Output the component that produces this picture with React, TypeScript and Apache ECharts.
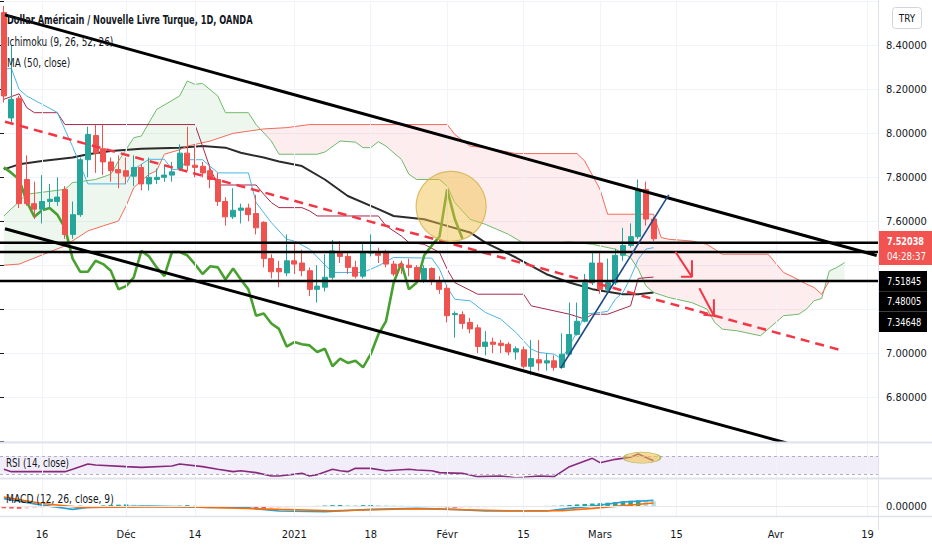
import React, { useEffect, useRef } from "react";
import * as echarts from "echarts";

// ---------- texts ----------
const TITLE = "Dollar Américain / Nouvelle Livre Turque, 1D, OANDA";
const LEGEND_ICHIMOKU = "Ichimoku (9, 26, 52, 26)";
const LEGEND_MA = "MA (50, close)";
const LEGEND_RSI = "RSI (14, close)";
const LEGEND_MACD = "MACD (12, 26, close, 9)";
const CURRENCY = "TRY";
const LAST_PRICE = "7.52038";
const COUNTDOWN = "04:28:37";
const LINE_TAGS = ["7.51845", "7.48005", "7.34648"];

// ---------- calendar ----------
const FIRST_DAY = "2020-11-09";
const LAST_DAY = "2021-04-20";
const HOLIDAYS = ["2020-12-25", "2021-01-01"];
const X_TICKS: [string, string][] = [
  ["2020-11-16", "16"], ["2020-12-01", "Déc"], ["2020-12-14", "14"], ["2021-01-04", "2021"],
  ["2021-01-18", "18"], ["2021-02-01", "Févr"], ["2021-02-15", "15"], ["2021-03-01", "Mars"],
  ["2021-03-15", "15"], ["2021-04-01", "Avr"], ["2021-04-19", "19"],
];

// ---------- price axis ----------
const Y_MIN = 6.6;
const Y_MAX = 8.6;
const Y_STEP = 0.2;
const Y_HIDDEN = [6.6, 7.2, 7.4, 8.6];

// ---------- candles [open, close, low, high] ----------
const CANDLES: number[][] = [
  [8.55, 8.17, 8.14, 8.58], [8.07, 8.155, 8.05, 8.40], [8.16, 7.68, 7.66, 8.17], [7.79, 7.68, 7.67, 7.90],
  [7.68, 7.655, 7.61, 7.78], [7.655, 7.69, 7.59, 7.81], [7.69, 7.70, 7.66, 7.77], [7.69, 7.71, 7.67, 7.80],
  [7.745, 7.54, 7.52, 7.76], [7.54, 7.63, 7.52, 7.69], [7.63, 7.88, 7.62, 7.89], [7.88, 7.995, 7.80, 8.03],
  [7.99, 7.91, 7.82, 8.04], [7.93, 7.87, 7.81, 8.04], [7.87, 7.83, 7.78, 7.89], [7.835, 7.82, 7.75, 7.90],
  [7.83, 7.805, 7.77, 7.89], [7.805, 7.845, 7.76, 7.90], [7.845, 7.77, 7.74, 7.86], [7.77, 7.80, 7.74, 7.89],
  [7.79, 7.80, 7.77, 7.84], [7.80, 7.81, 7.78, 7.85], [7.81, 7.825, 7.78, 7.87], [7.84, 7.91, 7.83, 7.95],
  [7.91, 7.855, 7.83, 8.03], [7.855, 7.845, 7.80, 7.95], [7.85, 7.82, 7.80, 7.87], [7.83, 7.79, 7.75, 7.86],
  [7.79, 7.69, 7.67, 7.82], [7.69, 7.62, 7.58, 7.71], [7.62, 7.65, 7.61, 7.75], [7.65, 7.66, 7.59, 7.68],
  [7.66, 7.63, 7.60, 7.68], [7.635, 7.57, 7.54, 7.72], [7.595, 7.43, 7.39, 7.60], [7.43, 7.37, 7.34, 7.45],
  [7.385, 7.37, 7.30, 7.42], [7.365, 7.42, 7.35, 7.54], [7.42, 7.405, 7.36, 7.50], [7.41, 7.375, 7.35, 7.47],
  [7.375, 7.29, 7.26, 7.39], [7.29, 7.305, 7.23, 7.40], [7.30, 7.345, 7.28, 7.45], [7.345, 7.465, 7.335, 7.515],
  [7.46, 7.44, 7.41, 7.51], [7.44, 7.39, 7.36, 7.46], [7.39, 7.35, 7.34, 7.42], [7.35, 7.46, 7.34, 7.50],
  [7.455, 7.46, 7.44, 7.54], [7.46, 7.445, 7.41, 7.48], [7.455, 7.405, 7.39, 7.47], [7.405, 7.36, 7.35, 7.42],
  [7.405, 7.395, 7.36, 7.42], [7.40, 7.39, 7.35, 7.43], [7.39, 7.335, 7.32, 7.40], [7.335, 7.385, 7.32, 7.40],
  [7.385, 7.335, 7.31, 7.39], [7.33, 7.29, 7.27, 7.35], [7.295, 7.17, 7.14, 7.31], [7.175, 7.18, 7.07, 7.19],
  [7.175, 7.135, 7.11, 7.19], [7.14, 7.11, 7.09, 7.16], [7.115, 7.03, 7.00, 7.13], [7.03, 7.05, 6.99, 7.10],
  [7.05, 7.04, 7.00, 7.07], [7.045, 7.035, 7.00, 7.06], [7.04, 7.005, 6.99, 7.05], [7.005, 7.02, 6.97, 7.03],
  [7.015, 6.94, 6.93, 7.03], [6.94, 6.975, 6.90, 7.06], [6.97, 6.955, 6.92, 7.06], [6.955, 6.965, 6.92, 7.00],
  [6.965, 6.935, 6.92, 6.99], [6.935, 6.995, 6.93, 7.09], [6.995, 7.085, 6.99, 7.23], [7.085, 7.145, 7.08, 7.23],
  [7.145, 7.32, 7.14, 7.36], [7.32, 7.41, 7.31, 7.455], [7.41, 7.29, 7.27, 7.46], [7.29, 7.32, 7.27, 7.43],
  [7.32, 7.445, 7.31, 7.475], [7.445, 7.49, 7.42, 7.57], [7.49, 7.53, 7.48, 7.59], [7.53, 7.745, 7.52, 7.79],
  [7.745, 7.61, 7.58, 7.78], [7.61, 7.52038, 7.51, 7.62],
];

// ---------- indicator lines: [bar index, value] ----------
const CHIKOU_SHIFT = 25;
const TENKAN: number[][] = [
  [0, 8.294], [1, 8.294], [2, 8.2], [3, 8.17], [7, 8.095], [9, 7.94], [11, 7.77], [16, 7.77], [17, 7.836],
  [19, 7.882], [21, 7.882], [22, 7.836], [23, 7.836], [24, 7.88], [26, 7.88], [28, 7.82], [32, 7.82],
  [33, 7.685], [35, 7.594], [37, 7.518], [38, 7.51], [40, 7.473], [43, 7.367], [47, 7.367], [49, 7.397],
  [51, 7.435], [56, 7.432], [57, 7.382], [58, 7.30], [59, 7.245], [61, 7.238], [63, 7.185], [65, 7.155],
  [67, 7.094], [69, 7.018], [70, 7.003], [72, 6.995], [73, 6.973], [75, 7.095], [76, 7.177], [78, 7.185],
  [79, 7.19], [80, 7.245], [81, 7.276], [82, 7.344], [83, 7.427], [84, 7.473], [85, 7.48],
];
const KIJUN: number[][] = [
  [0, 8.155], [2, 8.18], [3, 8.117], [4, 8.094], [7, 8.094], [8, 8.04], [25, 8.04], [26, 7.942],
  [27, 7.84], [28, 7.765], [33, 7.765], [34, 7.723], [35, 7.685], [36, 7.662], [39, 7.662], [40, 7.647],
  [41, 7.624], [49, 7.624], [50, 7.579], [52, 7.533], [53, 7.503], [55, 7.495], [57, 7.458], [58, 7.382],
  [59, 7.321], [62, 7.268], [68, 7.268], [69, 7.215], [74, 7.177], [76, 7.155], [77, 7.177], [79, 7.177],
  [82, 7.215], [83, 7.34], [85, 7.346],
];
const SENKOU_A: number[][] = [
  [0, 7.624], [3, 7.723], [8, 7.745], [9, 7.776], [12, 7.79], [14, 7.814], [15, 7.874], [17, 7.98],
  [18, 7.988], [19, 8.049], [20, 8.109], [23, 8.17], [24, 8.238], [25, 8.223], [26, 8.227], [28, 8.17],
  [29, 8.094], [32, 8.094], [33, 8.04], [35, 7.965], [36, 7.905], [41, 7.905], [42, 7.915], [44, 7.965],
  [46, 7.96], [47, 7.935], [48, 7.935], [49, 7.962], [50, 7.942], [52, 7.882], [53, 7.814], [54, 7.79],
  [57, 7.79], [58, 7.76], [59, 7.685], [61, 7.609], [63, 7.586], [64, 7.571], [66, 7.541], [68, 7.5],
  [73, 7.503], [74, 7.506], [77, 7.495], [80, 7.473], [82, 7.435], [83, 7.382], [84, 7.306], [85, 7.276],
  [87, 7.253], [90, 7.23], [92, 7.2], [93, 7.14], [94, 7.109], [96, 7.101], [99, 7.079], [102, 7.17],
  [104, 7.177], [105, 7.2], [106, 7.238], [107, 7.249], [108, 7.374], [109, 7.39], [110, 7.412],
];
const SENKOU_B: number[][] = [
  [0, 7.40], [2, 7.405], [8, 7.488], [11, 7.556], [13, 7.579], [15, 7.601], [16, 7.67], [17, 7.753],
  [19, 7.814], [20, 7.83], [21, 7.905], [23, 7.925], [24, 7.942], [27, 7.965], [30, 8.0], [34, 8.02],
  [37, 8.026], [40, 8.04], [58, 8.04], [59, 7.995], [61, 7.942], [63, 7.935], [67, 7.908], [75, 7.908],
  [76, 7.874], [78, 7.745], [79, 7.632], [85, 7.632], [86, 7.526], [87, 7.518], [90, 7.51], [92, 7.495],
  [94, 7.45], [100, 7.45], [102, 7.367], [103, 7.351], [105, 7.314], [106, 7.299], [107, 7.268],
  [108, 7.329], [110, 7.329],
];
const MA50: number[][] = [
  [0, 7.836], [2, 7.859], [5, 7.874], [9, 7.89], [11, 7.905], [14, 7.92], [18, 7.93], [23, 7.935],
  [26, 7.942], [29, 7.935], [31, 7.912], [34, 7.89], [36, 7.872], [39, 7.851], [42, 7.79], [45, 7.715],
  [49, 7.655], [51, 7.624], [55, 7.609], [58, 7.579], [61, 7.549], [63, 7.503], [67, 7.435], [71, 7.359],
  [74, 7.321], [77, 7.291], [79, 7.279], [81, 7.268], [83, 7.268], [85, 7.276],
];

// ---------- lower panes ----------
const RSI: number[][] = [
  [0, 40.9], [1, 35.8], [8, 35.8], [9, 40.9], [11, 52.5], [12, 50.3], [16, 46.7], [18, 45.2], [22, 48.1],
  [23, 52.5], [26, 46.7], [28, 40.9], [30, 35.8], [31, 37.9], [33, 33.6], [35, 26.3], [36, 26.3], [39, 32.1],
  [40, 26.3], [41, 29.2], [43, 40.9], [44, 37.9], [45, 35.8], [46, 43.0], [48, 43.0], [50, 37.9], [53, 40.9],
  [54, 39.4], [56, 37.9], [57, 33.6], [60, 32.1], [62, 24.8], [65, 26.3], [67, 22.6], [68, 23.4], [70, 26.3],
  [72, 24.8], [74, 46.7], [77, 64.9], [78, 55.4], [80, 62.7], [82, 67.1], [83, 74.4], [85, 59.8],
];
const RSI_BAND = [30, 70];
const MACD_LINE: number[][] = [
  [0, 0.061], [5, 0.008], [9, -0.026], [11, -0.010], [19, 0.0], [27, -0.010], [31, -0.010], [36, -0.039],
  [42, -0.045], [48, -0.026], [54, -0.018], [59, -0.026], [63, -0.039], [71, -0.039], [74, -0.018],
  [77, 0.0], [81, 0.034], [85, 0.047],
];
const SIGNAL_LINE: number[][] = [
  [0, 0.074], [5, 0.021], [10, -0.010], [23, -0.005], [36, -0.026], [43, -0.037], [54, -0.021],
  [66, -0.037], [73, -0.037], [77, -0.018], [85, 0.026],
];
const MACD_HIST: number[] = [
  -0.018, -0.02, -0.022, -0.02, -0.016, -0.012, -0.009, -0.006, -0.004, 0.002, 0.004, 0.003, 0.002,
  0.006, 0.010, 0.012, 0.014, 0.012, 0.010, -0.003, -0.005, -0.004, -0.002, 0.004, 0.008, 0.006, 0.003,
  -0.002, -0.004, -0.008, -0.012, -0.015, -0.017, -0.018, -0.02, -0.019, -0.014, -0.011, -0.008, -0.006,
  -0.004, 0.002, 0.005, 0.008, 0.009, 0.008, 0.007, 0.008, 0.009, 0.008, 0.006, 0.005, 0.004, 0.003,
  0.002, 0.001, -0.004, -0.008, -0.011, -0.013, -0.012, -0.011, -0.010, -0.009, -0.008, -0.007, -0.006,
  -0.004, -0.002, -0.001, 0.001, 0.002, 0.003, 0.005, 0.009, 0.014, 0.018, 0.021, 0.024, 0.028, 0.033,
  0.038, 0.044, 0.047, 0.044, 0.040,
];

// ---------- drawings: [bar index, price] ----------
const UPPER_CHANNEL = [[0.15, 8.539], [114.2, 7.444]];
const LOWER_CHANNEL = [[0.15, 7.566], [102.4, 6.591]];
const DASHED_TREND = [[0.15, 8.053], [109.95, 7.009]];
const H_LINES = [7.502, 7.460, 7.328];
const BLUE_TREND = [[72.85, 6.931], [86.99, 7.72]];
const ARROWS = [
  [[87.86, 7.461], [90.03, 7.347]], [[90.03, 7.423], [90.03, 7.347], [88.6, 7.347]],
  [[91.0, 7.295], [92.9, 7.17]], [[92.9, 7.245], [92.9, 7.17], [91.53, 7.175]],
];
const CIRCLE = [58.52, 7.668];
const RSI_MARK = [83.5, 66.3];

// ---------- layout ----------
const FONT = "'Liberation Sans Narrow', 'DejaVu Sans Condensed', 'Roboto', sans-serif";
const PLOT_LEFT = -5;
const PLOT_W = 884;
const AXIS_X = PLOT_LEFT + PLOT_W; // 879
const UP = "#26a69a";
const DOWN = "#ef5350";

function tradingDays(): string[] {
  const out: string[] = [];
  const d = new Date(FIRST_DAY + "T00:00:00Z");
  const end = new Date(LAST_DAY + "T00:00:00Z");
  while (d.getTime() <= end.getTime()) {
    const wd = d.getUTCDay();
    const s = d.toISOString().slice(0, 10);
    if (wd !== 0 && wd !== 6 && HOLIDAYS.indexOf(s) < 0) out.push(s);
    d.setUTCDate(d.getUTCDate() + 1);
  }
  return out;
}

const toU = (pts: number[][]) => pts.map((p) => [p[0] + 0.5, p[1]]);

function interp(arr: number[][], x: number): number {
  if (x <= arr[0][0]) return arr[0][1];
  for (let i = 1; i < arr.length; i++) {
    if (x <= arr[i][0]) {
      const [x0, y0] = arr[i - 1];
      const [x1, y1] = arr[i];
      return y0 + ((x - x0) / (x1 - x0)) * (y1 - y0);
    }
  }
  return arr[arr.length - 1][1];
}

function buildOption() {
  const DATES = tradingDays();
  const N = DATES.length;
  const tickMap: Record<string, string> = {};
  X_TICKS.forEach(([d, l]) => (tickMap[d] = l));
  const tickIdx = X_TICKS.map(([d]) => DATES.indexOf(d)).filter((i) => i >= 0);
  const isTick = (i: number) => tickIdx.indexOf(i) >= 0;
  const vGrid = tickIdx.map((i) => ({ xAxis: i + 0.5 }));
  const gridLine = { color: "#f0f3fa", width: 1, type: "solid" as const };

  const closes = CANDLES.map((c) => c[1]);
  const chikou: number[][] = [];
  for (let j = 0; j + CHIKOU_SHIFT < closes.length; j++) chikou.push([j + 0.5, closes[j + CHIKOU_SHIFT]]);

  const lineS = (name: string, data: number[][], color: string, width: number, z: number, extra: any = {}) => ({
    name, type: "line", xAxisIndex: 1, yAxisIndex: 0, data: toU(data), symbol: "none", silent: true,
    lineStyle: { color, width }, z, ...extra,
  });

  const cloud = {
    type: "custom", xAxisIndex: 1, yAxisIndex: 0, silent: true, z: 1,
    data: [[0, 7.5]], encode: { x: 0, y: 1 },
    renderItem: (params: any, api: any) => {
      const xs = Array.from(new Set([...SENKOU_A.map((p) => p[0]), ...SENKOU_B.map((p) => p[0])])).sort((a, b) => a - b);
      const regions: { pos: boolean; pts: number[][] }[] = [];
      let cur: any = null;
      for (let i = 0; i < xs.length; i++) {
        const x = xs[i];
        const a = interp(SENKOU_A, x);
        const b = interp(SENKOU_B, x);
        const d = a - b;
        if (i > 0 && cur) {
          const px = xs[i - 1];
          const pa = interp(SENKOU_A, px);
          const pb = interp(SENKOU_B, px);
          const pd = pa - pb;
          if (pd * d < 0) {
            const t = pd / (pd - d);
            const xc = px + t * (x - px);
            const yc = pa + t * (a - pa);
            cur.pts.push([xc, yc, yc]);
            cur = { pos: d > 0, pts: [[xc, yc, yc]] };
            regions.push(cur);
          }
        }
        if (!cur) {
          cur = { pos: d >= 0, pts: [] };
          regions.push(cur);
        }
        cur.pts.push([x, a, b]);
      }
      const children = regions.map((r) => {
        const top = r.pts.map((p) => api.coord([p[0] + 0.5, p[1]]));
        const bot = r.pts.slice().reverse().map((p) => api.coord([p[0] + 0.5, p[2]]));
        return {
          type: "polygon", shape: { points: top.concat(bot) },
          style: { fill: r.pos ? "rgba(76,175,80,0.10)" : "rgba(242,54,69,0.09)" },
        };
      });
      return { type: "group", children };
    },
  };

  const annot = (data: number[][], color: string, width: number, z: number, type: any = "solid") =>
    lineS("", data, color, width, z, { lineStyle: { color, width, type } });

  const hist = MACD_HIST.map((v, i) => {
    const prev = i > 0 ? MACD_HIST[i - 1] : v;
    let color;
    if (v >= 0) color = v >= prev ? "#26a69a" : "#b2dfdb";
    else color = v <= prev ? "#ff5252" : "#ffcdd2";
    return { value: v, itemStyle: { color } };
  });

  const text = (t: string, x: number, y: number, size: number, weight: string, fill: string, scaleX = 1, align = "left") => ({
    type: "text", x, y, scaleX, z: 100, silent: true,
    style: { text: t, fontSize: size, fontWeight: weight, fontFamily: FONT, fill, align, verticalAlign: "middle" },
  });

  const graphic: any[] = [
    { type: "line", z: 90, silent: true, shape: { x1: AXIS_X - 0.5, y1: 0, x2: AXIS_X - 0.5, y2: 530 }, style: { stroke: "#e0e3eb", lineWidth: 1 } },
    { type: "line", z: 90, silent: true, shape: { x1: 0, y1: 442.5, x2: 932, y2: 442.5 }, style: { stroke: "#e0e3eb", lineWidth: 2 } },
    { type: "line", z: 90, silent: true, shape: { x1: 0, y1: 478.5, x2: 932, y2: 478.5 }, style: { stroke: "#e0e3eb", lineWidth: 2 } },
    { type: "line", z: 90, silent: true, shape: { x1: 0, y1: 516.5, x2: 932, y2: 516.5 }, style: { stroke: "#e0e3eb", lineWidth: 1.5 } },
    text(TITLE, 7, 20, 13, "bold", "#131722", 0.706),
    text(LEGEND_ICHIMOKU, 7, 41.5, 13, "normal", "#131722", 0.76),
    text(LEGEND_MA, 7, 62, 13, "normal", "#131722", 0.76),
    text(LEGEND_RSI, 6, 463, 12, "normal", "#131722", 0.81),
    text(LEGEND_MACD, 6, 499, 12, "normal", "#131722", 0.85),
    { type: "rect", z: 100, silent: true, shape: { x: 892.5, y: 7.5, width: 29, height: 21, r: 3 }, style: { fill: "#fff", stroke: "#d1d4dc", lineWidth: 1 } },
    text(CURRENCY, 907, 18, 11, "normal", "#131722", 0.9, "center"),
    { type: "rect", z: 100, silent: true, shape: { x: AXIS_X, y: 231, width: 932 - AXIS_X, height: 34 }, style: { fill: "#f05350" } },
    text(LAST_PRICE, 887, 241, 11, "bold", "#ffffff", 0.82),
    text(COUNTDOWN, 887, 256, 11, "normal", "#ffffff", 0.88),
  ];
  LINE_TAGS.forEach((t, i) => {
    graphic.push({ type: "rect", z: 100, silent: true, shape: { x: AXIS_X, y: 271 + i * 20.3, width: 48, height: 20.3 }, style: { fill: "#000" } });
    graphic.push(text(t, 887, 281.2 + i * 20.3, 11, "normal", "#ffffff", 0.84));
  });

  const series: any[] = [
    cloud,
    lineS("MA", MA50, "#2b2b2b", 2, 3, { markLine: { silent: true, symbol: "none", label: { show: false }, lineStyle: gridLine, data: vGrid } }),
    lineS("Lead A", SENKOU_A, "#6fb96b", 1, 3),
    lineS("Lead B", SENKOU_B, "#f26b5b", 1, 3),
    lineS("Kijun", KIJUN, "#a52a4a", 1, 3),
    lineS("Tenkan", TENKAN, "#4ab4e6", 1, 3),
    { type: "line", xAxisIndex: 1, yAxisIndex: 0, data: chikou, symbol: "none", silent: true, lineStyle: { color: "#48a02e", width: 2.6 }, z: 4 },
    {
      type: "candlestick", xAxisIndex: 0, yAxisIndex: 0, data: CANDLES, barWidth: 5.5, silent: true, z: 5,
      itemStyle: { color: UP, color0: DOWN, borderColor: UP, borderColor0: DOWN, borderWidth: 1 },
    },
    annot(UPPER_CHANNEL, "#000000", 3, 6),
    annot(LOWER_CHANNEL, "#000000", 3, 6),
    annot(DASHED_TREND, "#f23645", 2.5, 6, [9, 6]),
    ...H_LINES.map((v) => annot([[-1, v], [N, v]], "#000000", 2.6, 6)),
    annot(BLUE_TREND, "#1c4a86", 1.6, 6),
    ...ARROWS.map((a) => annot(a, "#f23645", 2, 7)),
    {
      type: "scatter", xAxisIndex: 1, yAxisIndex: 0, data: [[CIRCLE[0] + 0.5, CIRCLE[1]]], symbol: "circle", symbolSize: 70, silent: true, z: 8,
      itemStyle: { color: "rgba(240,190,70,0.6)", borderColor: "#d2b24e", borderWidth: 1.2 },
    },
    // RSI
    {
      type: "line", xAxisIndex: 2, yAxisIndex: 1, data: toU(RSI), symbol: "none", silent: true, z: 4,
      lineStyle: { color: "#872a7c", width: 1.6 },
      markArea: { silent: true, itemStyle: { color: "rgba(126,87,194,0.1)" }, data: [[{ yAxis: RSI_BAND[0] }, { yAxis: RSI_BAND[1] }]] },
      markLine: {
        silent: true, symbol: "none", label: { show: false },
        data: [
          ...vGrid.map((d) => ({ ...d, lineStyle: gridLine })),
          { yAxis: RSI_BAND[0], lineStyle: { color: "#b3aec4", width: 1, type: [3, 3] } },
          { yAxis: RSI_BAND[1], lineStyle: { color: "#b3aec4", width: 1, type: [3, 3] } },
        ],
      },
    },
    {
      type: "scatter", xAxisIndex: 2, yAxisIndex: 1, data: [[RSI_MARK[0] + 0.5, RSI_MARK[1]]], symbol: "circle", symbolSize: [37, 11], silent: true, z: 6,
      itemStyle: { color: "rgba(240,190,70,0.7)", borderColor: "#9fb04a", borderWidth: 1 },
    },
    // MACD
    {
      type: "bar", xAxisIndex: 3, yAxisIndex: 2, data: hist, barWidth: 4.5, silent: true, z: 3,
    },
    {
      type: "line", xAxisIndex: 4, yAxisIndex: 2, data: toU(MACD_LINE), symbol: "none", silent: true, z: 4,
      lineStyle: { color: "#2c9fd0", width: 1.6 },
      markLine: {
        silent: true, symbol: "none", label: { show: false },
        data: [...vGrid.map((d) => ({ ...d, lineStyle: gridLine })), { yAxis: 0, lineStyle: { color: "#e6e8ee", width: 1, type: "solid" } }],
      },
    },
    {
      type: "line", xAxisIndex: 4, yAxisIndex: 2, data: toU(SIGNAL_LINE), symbol: "none", silent: true, z: 4,
      lineStyle: { color: "#ff6d00", width: 1.6 },
    },
  ];

  return {
    animation: false,
    backgroundColor: "#ffffff",
    textStyle: { fontFamily: FONT },
    grid: [
      { left: PLOT_LEFT, top: 1.5, width: PLOT_W, height: 439.5 },
      { left: PLOT_LEFT, top: 443, width: PLOT_W, height: 35 },
      { left: PLOT_LEFT, top: 479, width: PLOT_W, height: 37 },
    ],
    xAxis: [
      { type: "category", gridIndex: 0, data: DATES, boundaryGap: true, show: false },
      { type: "value", gridIndex: 0, min: 0, max: N, show: false },
      { type: "value", gridIndex: 1, min: 0, max: N, show: false },
      {
        type: "category", gridIndex: 2, data: DATES, boundaryGap: true,
        axisLine: { show: false },
        axisTick: { show: true, alignWithLabel: true, interval: (i: number) => isTick(i), length: 4, lineStyle: { color: "#787b86" } },
        axisLabel: {
          interval: (i: number) => isTick(i), formatter: (v: string) => tickMap[v] || "",
          margin: 13, fontSize: 11, fontFamily: FONT, color: "#131722",
        },
        splitLine: { show: false },
      },
      { type: "value", gridIndex: 2, min: 0, max: N, show: false },
    ],
    yAxis: [
      {
        type: "value", gridIndex: 0, min: Y_MIN, max: Y_MAX, interval: Y_STEP, position: "right",
        axisLine: { show: false },
        axisTick: { show: true, length: 4, lineStyle: { color: "#131722" } },
        axisLabel: {
          margin: 7, fontSize: 11, fontFamily: FONT, color: "#131722",
          formatter: (v: number) => (Y_HIDDEN.some((h) => Math.abs(h - v) < 1e-6) ? "" : v.toFixed(5)),
        },
        splitLine: { show: true, lineStyle: { color: "#f0f3fa", width: 1 } },
      },
      { type: "value", gridIndex: 1, min: 21.9, max: 98.4, show: false, splitLine: { show: false } },
      {
        type: "value", gridIndex: 2, min: -0.08, max: 0.22, interval: 0.08, position: "right",
        axisLine: { show: false }, axisTick: { show: false }, splitLine: { show: false },
        axisLabel: {
          margin: 7, fontSize: 11, fontFamily: FONT, color: "#131722",
          formatter: (v: number) => (Math.abs(v) < 1e-9 ? "0.00000" : ""),
        },
      },
    ],
    graphic: { elements: graphic },
    series,
  };
}

export default function App() {
  const ref = useRef<HTMLDivElement>(null);
  useEffect(() => {
    document.body.style.margin = "0";
    if (!ref.current) return;
    const chart = echarts.init(ref.current, undefined, { renderer: "svg" });
    chart.setOption(buildOption() as any);
    return () => chart.dispose();
  }, []);
  return <div ref={ref} style={{ width: 932, height: 550, background: "#fff" }} />;
}
